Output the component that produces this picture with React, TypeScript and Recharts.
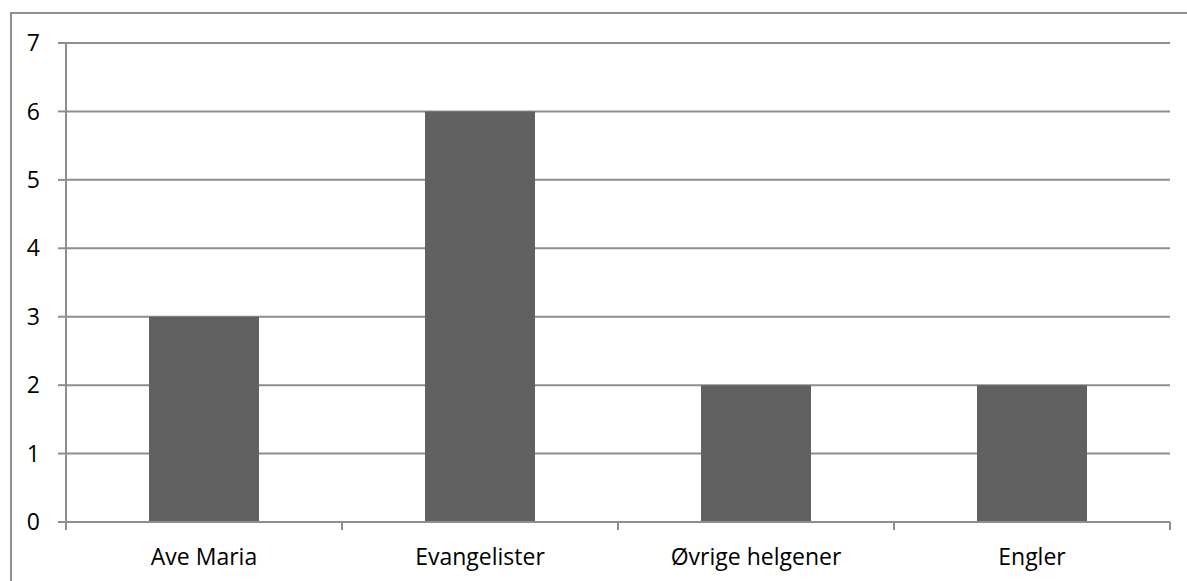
import React from "react"
import { BarChart, Bar, XAxis, YAxis, CartesianGrid } from "recharts"

const categories = ["Ave Maria", "Evangelister", "Øvrige helgener", "Engler"]
const values = [3, 6, 2, 2]
const yTicks = [0, 1, 2, 3, 4, 5, 6, 7]

// positions on a numeric axis: bars sit at the centre of each category slot
const data = categories.map((name, i) => ({ pos: i + 0.5, name, value: values[i] }))
const xTicks = [0, 0.5, 1, 1.5, 2, 2.5, 3, 3.5, 4]

const GRID = "#8e8e8e"
const FONT = "'Open Sans', 'Noto Sans', sans-serif"

function XTick(props: any) {
  const { x, y, payload } = props
  const v = payload.value
  if (Number.isInteger(v)) {
    return <line x1={x} y1={y} x2={x} y2={y + 8} stroke={GRID} strokeWidth={2} />
  }
  const label = categories[Math.floor(v)]
  return (
    <text x={x} y={y + 43} textAnchor="middle" fill="#000" fontSize={23} fontFamily={FONT}>
      {label}
    </text>
  )
}

export default function App() {
  return (
    <div style={{ position: "fixed", left: 0, top: 0, width: 1187, height: 581, overflow: "hidden", background: "#fff" }}>
      <div
        style={{
          position: "absolute",
          left: 10,
          top: 12,
          width: 1300,
          height: 700,
          border: `2px solid ${GRID}`,
        }}
      />
      <div style={{ position: "absolute", left: 0, top: 0 }}>
        <BarChart width={1187} height={581} data={data} margin={{ top: 43, right: 17, bottom: 0, left: 10 }}>
          <CartesianGrid vertical={false} stroke={GRID} strokeWidth={2} />
          <XAxis
            dataKey="pos"
            type="number"
            domain={[0, 4]}
            ticks={xTicks}
            interval={0}
            height={59}
            tickLine={false}
            tickSize={0}
            tickMargin={0}
            axisLine={{ stroke: GRID, strokeWidth: 2 }}
            tick={<XTick />}
          />
          <YAxis
            domain={[0, 7]}
            ticks={yTicks}
            interval={0}
            width={56}
            tickSize={8}
            tickMargin={18}
            axisLine={{ stroke: GRID, strokeWidth: 2 }}
            tickLine={{ stroke: GRID, strokeWidth: 2 }}
            tick={{ fill: "#000", fontSize: 23, fontFamily: FONT }}
          />
          <Bar dataKey="value" fill="#616161" barSize={110} isAnimationActive={false} />
        </BarChart>
      </div>
    </div>
  )
}
